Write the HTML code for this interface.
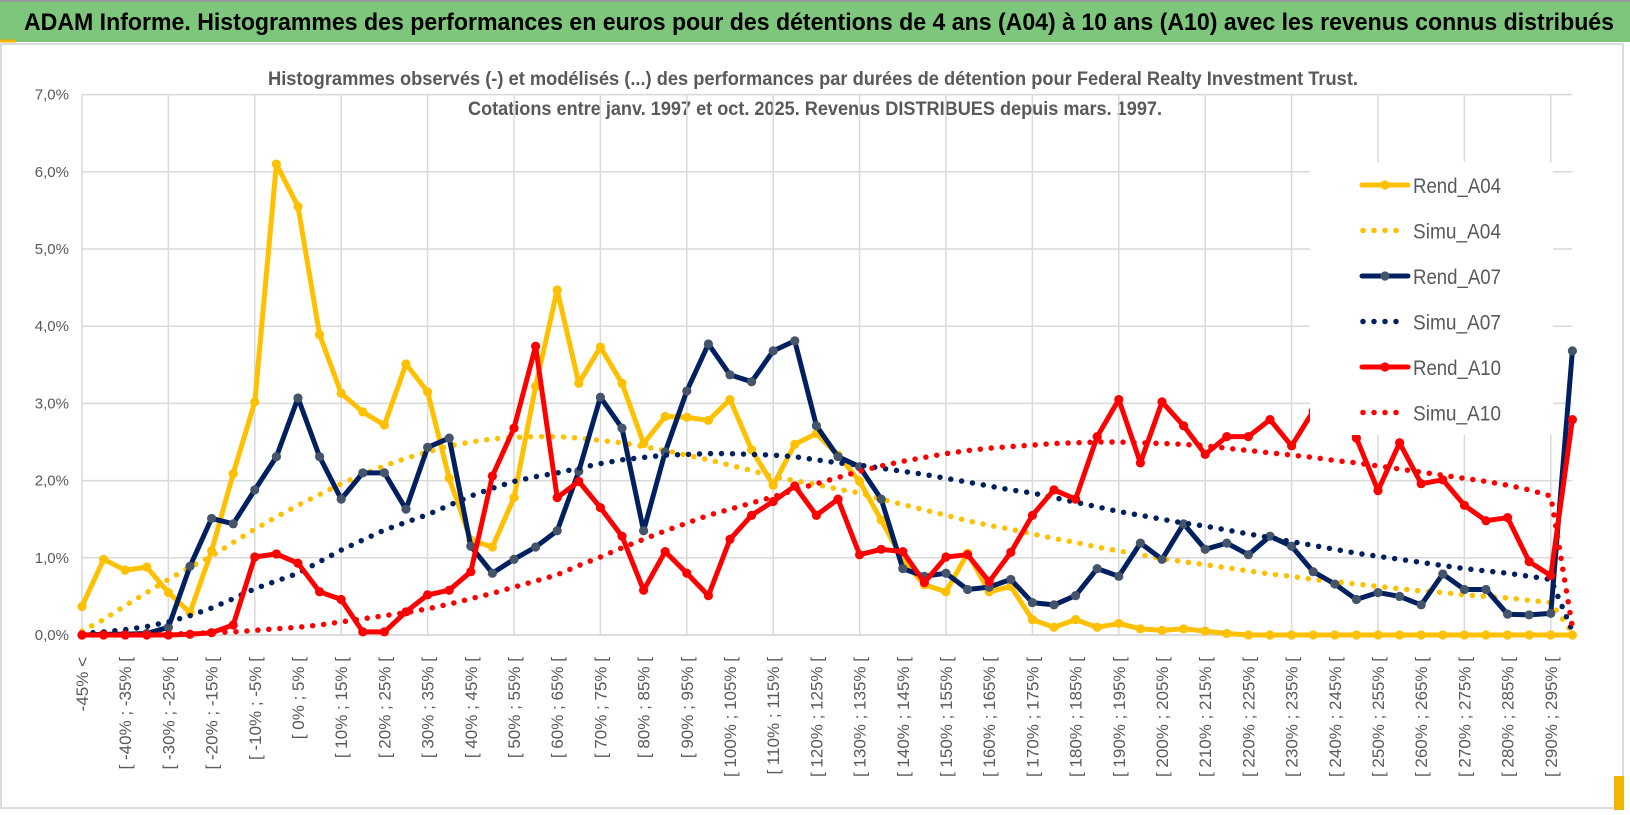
<!DOCTYPE html>
<html><head><meta charset="utf-8"><style>
html,body{margin:0;padding:0;background:#fff;}
svg{display:block;font-family:"Liberation Sans",sans-serif;}
</style></head><body>
<svg id="chart" width="1630" height="815" viewBox="0 0 1630 815" xmlns="http://www.w3.org/2000/svg">
<rect x="0" y="0" width="1630" height="815" fill="#fff"/>
<rect x="0" y="0" width="1630" height="42" fill="#7dc67b"/>
<line x1="0" y1="1" x2="1630" y2="1" stroke="#9a9a9a" stroke-width="2"/>
<line x1="0" y1="41" x2="16" y2="41" stroke="#f0b400" stroke-width="3"/>
<text x="24" y="30" font-size="24" font-weight="bold" fill="#000" textLength="1590" lengthAdjust="spacingAndGlyphs">ADAM Informe. Histogrammes des performances en euros pour des détentions de 4 ans (A04) à 10 ans (A10) avec les revenus connus distribués</text>
<rect x="1" y="44" width="1622" height="764" fill="none" stroke="#d0d0d0" stroke-width="1.5"/>
<rect x="1614" y="776" width="10" height="34" fill="#f0b400"/>
<text x="813" y="85" text-anchor="middle" font-size="19" font-weight="bold" fill="#595959" textLength="1090" lengthAdjust="spacingAndGlyphs">Histogrammes observés (-) et modélisés (...) des performances par durées de détention pour Federal Realty Investment Trust.</text>
<text x="815" y="115" text-anchor="middle" font-size="19" font-weight="bold" fill="#595959" textLength="694" lengthAdjust="spacingAndGlyphs">Cotations entre janv. 1997 et oct. 2025.  Revenus DISTRIBUES depuis mars. 1997.</text>
<g id="grid"></g>
<g id="yaxis"></g>
<g id="xaxis"></g>
<g id="series"></g>
<g id="legend"></g>
</svg>
<script>
const yTicks = [0,1,2,3,4,5,6,7];
const yTickLabels = ["0,0%","1,0%","2,0%","3,0%","4,0%","5,0%","6,0%","7,0%"];
const categories = ["-45% <"];
for (let k = 1; k <= 69; k++) { categories.push("[ " + (-50 + 5*k) + "% ; " + (-45 + 5*k) + "% ["); }
const rendA04 = [0.37,0.98,0.84,0.88,0.55,0.29,1.09,2.09,3.02,6.10,5.55,3.89,3.13,2.89,2.72,3.51,3.15,2.03,1.23,1.14,1.78,3.22,4.47,3.26,3.73,3.26,2.48,2.83,2.82,2.78,3.05,2.40,1.94,2.47,2.61,2.33,1.99,1.49,0.97,0.65,0.56,1.06,0.56,0.63,0.20,0.10,0.20,0.10,0.15,0.08,0.06,0.08,0.05,0.02,0,0,0,0,0,0,0,0,0,0,0,0,0,0,0,0];
const simuA04 = [0.05,0.2,0.38,0.55,0.72,0.88,1.02,1.2,1.37,1.53,1.68,1.82,1.96,2.08,2.19,2.29,2.37,2.45,2.5,2.54,2.56,2.57,2.57,2.55,2.52,2.49,2.44,2.39,2.33,2.27,2.2,2.13,2.05,2.0,1.95,1.89,1.84,1.76,1.69,1.62,1.55,1.48,1.42,1.37,1.31,1.25,1.2,1.14,1.09,1.04,0.99,0.95,0.91,0.87,0.83,0.79,0.76,0.72,0.69,0.66,0.63,0.6,0.57,0.55,0.52,0.5,0.48,0.45,0.42,0.03];
const rendA07 = [0,0.01,0.01,0.02,0.1,0.89,1.51,1.44,1.88,2.31,3.07,2.31,1.76,2.10,2.10,1.63,2.43,2.55,1.15,0.80,0.98,1.14,1.35,2.12,3.08,2.68,1.35,2.37,3.16,3.77,3.37,3.28,3.68,3.81,2.71,2.31,2.18,1.76,0.86,0.76,0.80,0.59,0.62,0.72,0.42,0.39,0.51,0.86,0.76,1.19,0.98,1.44,1.11,1.19,1.04,1.28,1.15,0.82,0.66,0.46,0.55,0.50,0.39,0.79,0.59,0.59,0.27,0.26,0.28,3.68];
const simuA07 = [0.02,0.04,0.07,0.11,0.17,0.25,0.35,0.47,0.6,0.7,0.8,0.95,1.1,1.23,1.36,1.46,1.56,1.68,1.8,1.9,1.99,2.05,2.1,2.16,2.22,2.27,2.3,2.33,2.34,2.35,2.35,2.34,2.33,2.31,2.27,2.23,2.2,2.16,2.12,2.08,2.03,1.98,1.93,1.88,1.84,1.78,1.72,1.66,1.6,1.55,1.5,1.45,1.41,1.36,1.31,1.26,1.21,1.16,1.11,1.06,1.02,0.98,0.94,0.9,0.86,0.83,0.8,0.76,0.72,0.05];
const rendA10 = [0,0,0,0,0,0.01,0.03,0.13,1.01,1.05,0.93,0.56,0.46,0.04,0.04,0.30,0.52,0.58,0.82,2.06,2.68,3.74,1.78,1.99,1.65,1.28,0.58,1.08,0.80,0.51,1.24,1.55,1.73,1.93,1.55,1.76,1.04,1.11,1.08,0.68,1.01,1.04,0.69,1.07,1.55,1.88,1.76,2.57,3.05,2.23,3.02,2.71,2.34,2.57,2.57,2.79,2.45,2.90,3.05,2.55,1.87,2.49,1.96,2.01,1.68,1.48,1.52,0.95,0.77,2.79];
const simuA10 = [0,0,0,0.01,0.01,0.02,0.03,0.04,0.06,0.08,0.1,0.13,0.17,0.21,0.25,0.29,0.34,0.4,0.47,0.54,0.62,0.7,0.78,0.9,1.01,1.13,1.24,1.35,1.45,1.55,1.63,1.71,1.79,1.88,1.96,2.04,2.12,2.19,2.25,2.3,2.35,2.39,2.42,2.44,2.46,2.48,2.49,2.5,2.5,2.49,2.48,2.47,2.45,2.42,2.39,2.36,2.33,2.3,2.26,2.23,2.19,2.15,2.11,2.07,2.03,1.99,1.94,1.88,1.8,0.1];
const seriesNames = ["Rend_A04","Simu_A04","Rend_A07","Simu_A07","Rend_A10","Simu_A10"];

const NS = "http://www.w3.org/2000/svg";
const X0 = 82, DX = 21.6, Y0 = 635, DY = 77.2;
function xPos(i){ return X0 + i*DX; }
function yPos(v){ return Y0 - v*DY; }
function mk(tag, attrs, parent){ const e = document.createElementNS(NS, tag); for (const k in attrs) e.setAttribute(k, attrs[k]); parent.appendChild(e); return e; }

const grid = document.getElementById('grid');
const xMax = xPos(categories.length - 1);
yTicks.forEach(t => {
  const l = mk('line', {x1: X0, x2: xMax, y1: yPos(t), y2: yPos(t), stroke: t===0 ? '#d0d0d0' : '#d9d9d9', 'stroke-width': 1.5}, grid);
  
  
});
for (let i = 0; i < categories.length; i += 4) {
  const l = mk('line', {x1: xPos(i), x2: xPos(i), y1: yPos(7), y2: yPos(0), stroke: '#d9d9d9', 'stroke-width': 1.5}, grid);
  
  
}
const yaxis = document.getElementById('yaxis');
yTicks.forEach((t, k) => {
  const tx = mk('text', {x: 69, y: yPos(t) + 5, 'text-anchor': 'end', 'font-size': 15, fill: '#595959'}, yaxis);
  tx.textContent = yTickLabels[k];
  
  
});
const xaxis = document.getElementById('xaxis');
for (let i = 0; i < categories.length; i += 2) {
  const x = xPos(i) + 6;
  const tx = mk('text', {x: x, y: 657, 'text-anchor': 'end', 'font-size': 17, fill: '#595959', transform: 'rotate(-90 ' + x + ' 657)'}, xaxis);
  tx.textContent = categories[i];
  
  
}
const sg = document.getElementById('series');
function pts(arr){ return arr.map((v,i) => xPos(i).toFixed(1) + ',' + yPos(v).toFixed(1)).join(' '); }
function solid(arr, color, mcolor, name){
  const g = mk('g', {}, sg);
  
  
  mk('polyline', {points: pts(arr), fill: 'none', stroke: color, 'stroke-width': 5, 'stroke-linejoin': 'round'}, g);
  arr.forEach((v,i) => {
    const c = mk('circle', {cx: xPos(i), cy: yPos(v), r: 4.6, fill: mcolor}, g);
    
    
  });
}
function dotted(arr, color, name){
  const p = mk('polyline', {points: pts(arr), fill: 'none', stroke: color, 'stroke-width': 5.5, 'stroke-linecap': 'round', 'stroke-dasharray': '0 11'}, sg);
  
  
}
solid(rendA04, '#ffc000', '#ffc000', 'rend-a04-line');
dotted(simuA04, '#ffc000', 'simu-a04-line');
solid(rendA07, '#002060', '#44546a', 'rend-a07-line');
dotted(simuA07, '#002060', 'simu-a07-line');
solid(rendA10, '#ff0000', '#ff0000', 'rend-a10-line');
dotted(simuA10, '#ff0000', 'simu-a10-line');

const lg = document.getElementById('legend');
const bg = mk('rect', {x: 1310, y: 162, width: 243, height: 273, fill: '#fff'}, lg);


const lcolors = ['#ffc000','#ffc000','#002060','#002060','#ff0000','#ff0000'];
const lmark = ['#ffc000',null,'#44546a',null,'#ff0000',null];
seriesNames.forEach((n, k) => {
  const y = 185 + k*45.5;
  const g = mk('g', {}, lg);
  
  
  if (lmark[k]) {
    mk('line', {x1: 1362, x2: 1408, y1: y, y2: y, stroke: lcolors[k], 'stroke-width': 5, 'stroke-linecap': 'round'}, g);
    mk('circle', {cx: 1385, cy: y, r: 4.6, fill: lmark[k]}, g);
  } else {
    mk('line', {x1: 1363, x2: 1400, y1: y, y2: y, stroke: lcolors[k], 'stroke-width': 5.5, 'stroke-linecap': 'round', 'stroke-dasharray': '0 11'}, g);
  }
  const t = mk('text', {x: 1413, y: y + 8, 'font-size': 21, fill: '#595959', textLength: 88, lengthAdjust: 'spacingAndGlyphs'}, g);
  t.textContent = n;
});
</script>
</body></html>
